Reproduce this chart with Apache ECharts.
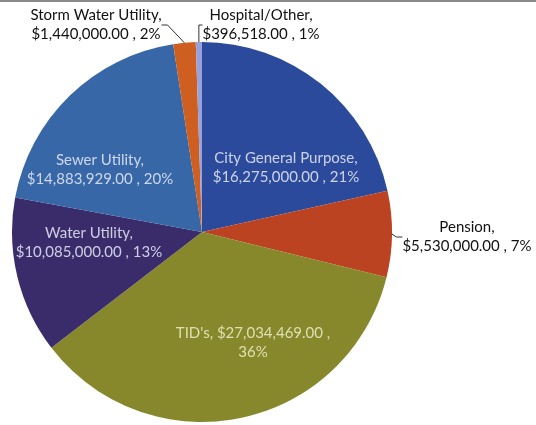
<!DOCTYPE html>
<html>
<head>
<meta charset="utf-8">
<script src="https://cdn.jsdelivr.net/npm/echarts@6/dist/echarts.min.js"></script>
<style>
  html, body { margin: 0; padding: 0; background: #ffffff; }
  #chart { width: 536px; height: 425px; }
</style>
</head>
<body>
<div id="chart"></div>
<script>
// Budget shares by fund, clockwise from 12 o'clock
const categories = ['City General Purpose', 'Pension', "TID's", 'Water Utility', 'Sewer Utility', 'Storm Water Utility', 'Hospital/Other'];
const amounts = [16275000, 5530000, 27034469, 10085000, 14883929, 1440000, 396518];

// Slice fills, in category order
const sliceColors = ['#2C4A9B', '#BB4321', '#86882B', '#3A2B6B', '#3767A6', '#CF5F20', '#97A1DB'];

// Label anchors (centre of each text block) and whether the label sits on the slice
const labelSpots = [
  { x: 286, y: 168, inside: true },
  { x: 467, y: 237, inside: false },
  { x: 253, y: 343, inside: true },
  { x: 89,  y: 243, inside: true },
  { x: 100, y: 170, inside: true },
  { x: 96,  y: 25,  inside: false },
  { x: 261, y: 25,  inside: false }
];

const money = v => '$' + v.toLocaleString('en-US', { minimumFractionDigits: 2, maximumFractionDigits: 2 });

const chart = echarts.init(document.getElementById('chart'), null, { renderer: 'canvas' });

const seriesData = categories.map((name, i) => {
  const spot = labelSpots[i];
  const item = {
    name: name,
    value: amounts[i],
    itemStyle: { color: sliceColors[i] },
    label: {
      position: spot.inside ? 'inside' : 'outside',
      color: spot.inside ? 'rgba(230,233,246,0.85)' : '#111111'
    },
    labelLine: { show: !spot.inside }
  };
  if (name === "TID's") {
    item.label.formatter = p => p.name + ', ' + money(p.value) + ' ,\n' + p.percent + '%';
    item.label.color = 'rgba(236,234,196,0.88)';
  }
  return item;
});

chart.setOption({
  animation: false,
  backgroundColor: '#ffffff',
  graphic: [
    { type: 'rect', left: 0, top: 0, shape: { width: 536, height: 2 }, style: { fill: '#8a8a8a' } }
  ],
  series: [{
    type: 'pie',
    center: [202, 232],
    radius: [0, 190],
    startAngle: 90,
    clockwise: true,
    avoidLabelOverlap: false,
    percentPrecision: 0,
    itemStyle: { borderWidth: 0 },
    label: {
      fontFamily: 'Lato',
      fontSize: 15,
      lineHeight: 19,
      align: 'center',
      overflow: 'none',
      formatter: p => p.name + ',\n' + money(p.value) + ' , ' + p.percent + '%'
    },
    labelLine: {
      length: 6,
      length2: 6,
      lineStyle: { color: '#333333', width: 1 }
    },
    labelLayout: params => {
      const spot = labelSpots[params.dataIndex];
      return {
        x: spot.x,
        y: spot.y,
        align: 'center',
        verticalAlign: 'middle'
      };
    },
    data: seriesData
  }]
});
</script>
</body>
</html>
